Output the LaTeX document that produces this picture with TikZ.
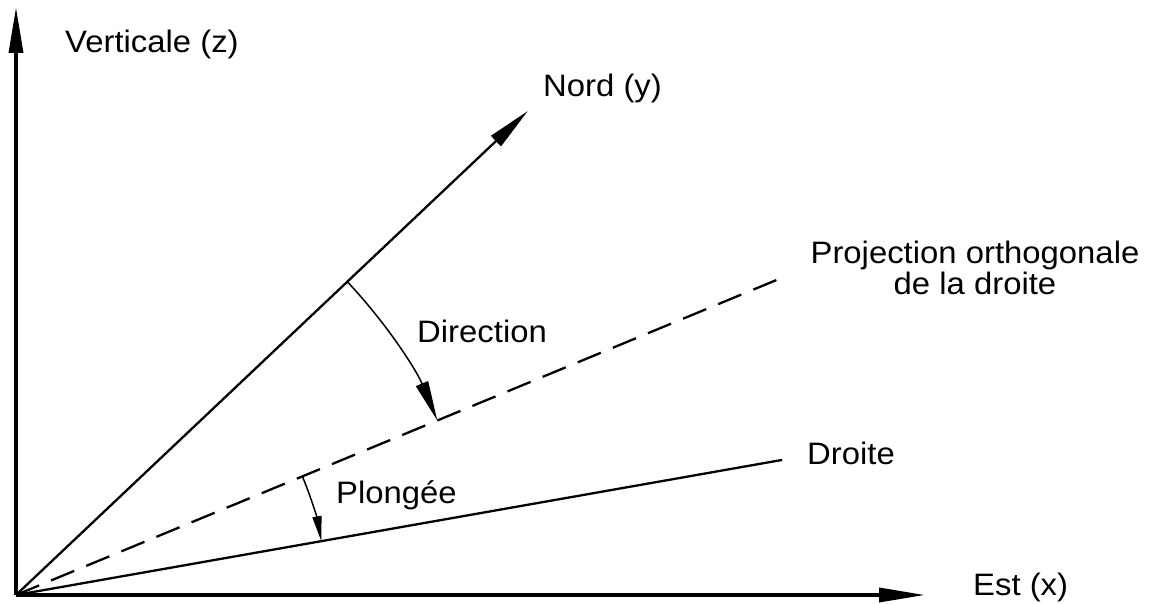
\documentclass[tikz,border=0pt]{standalone}
\usepackage{fontspec}
\setmainfont{Liberation Sans}[FakeStretch=1.06]
\usetikzlibrary{arrows.meta,calc}
\begin{document}
\begin{tikzpicture}[x=1pt,y=1pt,
  axis/.style={line width=3.6pt,-{Triangle[length=46pt,width=14pt]}},
  ray/.style={line width=2.3pt},
  dashray/.style={line width=2.3pt,dash pattern=on 25pt off 13pt},
  anglearc/.style={line width=1.5pt},
  lbl/.style={font=\fontsize{31}{31}\selectfont,inner sep=0pt,anchor=base west}]
\useasboundingbox (0,0) rectangle (1167,603);
\coordinate (O) at (16,8);
\coordinate (Z) at (16,596);
\coordinate (X) at (925,8);
\coordinate (N) at ($(O)+(43.4:704.6)$);
\coordinate (P) at ($(O)+(22.5:829)$);
\coordinate (D) at ($(O)+(10.0:778)$);
\coordinate (A1) at ($(O)+(43.4:456)$);
\coordinate (B1) at ($(O)+(22.5:310)$);
\draw[axis] (O) -- (Z);
\draw[axis] (O) -- (X);
\draw[ray,-{Triangle[length=44pt,width=14pt]}] (O) -- (N);
\draw[dashray] (O) -- (P);
\draw[ray] (O) -- (D);
\draw[anglearc,-{Triangle[length=40pt,width=13pt]}] (A1) arc[start angle=43.4,end angle=22.5,radius=456];
\draw[anglearc,-{Triangle[length=25pt,width=9pt]}] (B1) arc[start angle=22.5,end angle=10,radius=310];
\node[lbl] (tz) at (65,550) {Verticale (z)};
\node[lbl] (ty) at (543,506) {Nord (y)};
\node[lbl] (tx) at (973,8) {Est (x)};
\node[lbl,anchor=base,align=center] (tp) at (975,308) {Projection orthogonale\\de la droite};
\node[lbl] (td) at (807,139) {Droite};
\node[lbl] (tdir) at (417,260) {Direction};
\node[lbl] (tpl) at (336,100) {Plongée};
\end{tikzpicture}
\end{document}
